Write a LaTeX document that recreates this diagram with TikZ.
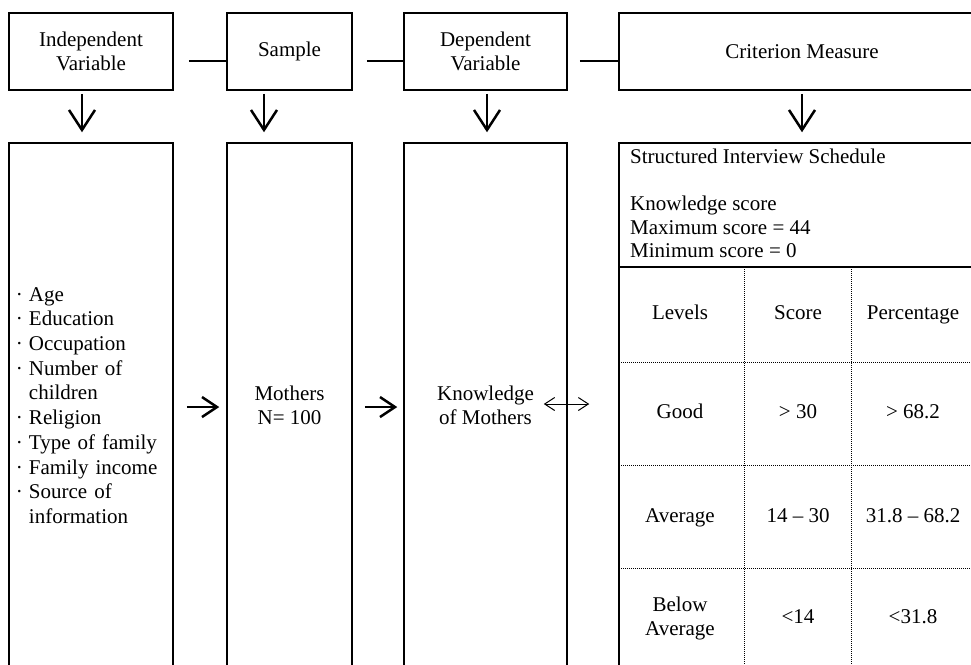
\documentclass[tikz,border=0pt]{standalone}
\usepackage{fontspec}
\setmainfont{Liberation Serif}
\usetikzlibrary{arrows.meta}

\begin{document}
\begin{tikzpicture}[x=1pt,y=-1pt,
  font=\fontsize{21}{24}\selectfont,
  box/.style={draw, line width=1.5pt, align=center, inner sep=0pt},
  cell/.style={text height=14pt, text depth=4pt},
  link/.style={line width=2.8pt},
  arr/.style={line width=2.5pt, -{Straight Barb[length=20pt,width=26pt]}},
  arrs/.style={line width=2.5pt, -{Straight Barb[length=15pt,width=20pt]}},
  both/.style={line width=1pt, {Straight Barb[length=10pt,width=13pt]}-{Straight Barb[length=10pt,width=13pt]}},
  table/.style={densely dotted, line width=1pt}]
\useasboundingbox (0,0) rectangle (971,664);
\clip (0,0) rectangle (971,664);

\node[box, minimum width=164pt, minimum height=77pt] (1) at (91,51.5) {Independent\\Variable};
\node[box, minimum width=125pt, minimum height=77pt] (2) at (289.5,51.5) {Sample};
\node[box, minimum width=163pt, minimum height=77pt] (3) at (485.5,51.5) {Dependent\\Variable};
\node[box, minimum width=366pt, minimum height=77pt] (4) at (802,51.5) {Criterion Measure};

\node[box, minimum height=525pt, text width=150pt, inner xsep=7pt, align=left,
  font=\fontsize{21}{24.7}\selectfont] (5) at (91,405.5)
  {\makebox[13pt][l]{\textperiodcentered}Age\\
   \makebox[13pt][l]{\textperiodcentered}Education\\
   \makebox[13pt][l]{\textperiodcentered}Occupation\\
   \makebox[13pt][l]{\textperiodcentered}Number of\\
   \hspace*{13pt}children\\
   \makebox[13pt][l]{\textperiodcentered}Religion\\
   \makebox[13pt][l]{\textperiodcentered}Type of family\\
   \makebox[13pt][l]{\textperiodcentered}Family income\\
   \makebox[13pt][l]{\textperiodcentered}Source of\\
   \hspace*{13pt}information};
\node[box, minimum width=125pt, minimum height=525pt] (6) at (289.5,405.5) {Mothers\\N= 100};
\node[box, minimum width=163pt, minimum height=525pt] (7) at (485.5,405.5) {Knowledge\\of Mothers};
\node[box, minimum width=366pt, minimum height=525pt] (8) at (802,405.5) {};

% criterion box contents
\node[anchor=north west, align=left, inner sep=0pt, font=\fontsize{21}{23.5}\selectfont] (9) at (630,149)
  {Structured Interview Schedule\\[23.5pt]
   Knowledge score\\
   Maximum score = 44\\
   Minimum score = 0};
\coordinate (t) at (0,267);
\draw[line width=1.5pt] (8.west |- t) -- (8.east |- t);
\draw[table] (744,267) -- (744,668);
\draw[table] (851,267) -- (851,668);
\draw[table] (619,362) -- (985,362);
\draw[table] (619,465) -- (985,465);
\draw[table] (619,568) -- (985,568);

\node[cell](10) at (680,314) {Levels};
\node[cell](11) at (798,314) {Score};
\node[cell](12) at (913,314) {Percentage};
\node[cell](13) at (680,413) {Good};
\node[cell](14) at (798,413) {> 30};
\node[cell](15) at (913,413) {> 68.2};
\node[cell](16) at (680,517) {Average};
\node[cell](17) at (798,517) {14 – 30};
\node[cell](18) at (913,517) {31.8 – 68.2};
\node[align=center](19) at (680,618) {Below\\Average};
\node[cell](20) at (798,618) {<14};
\node[cell](21) at (913,618) {<31.8};

\draw[link, shorten <=15pt] ([yshift=-9.5pt]1.east) -- ([yshift=-9.5pt]2.west);
\draw[link, shorten <=14pt] ([yshift=-9.5pt]2.east) -- ([yshift=-9.5pt]3.west);
\draw[link, shorten <=12pt] ([yshift=-9.5pt]3.east) -- ([yshift=-9.5pt]4.west);
\draw[arr, shorten <=3pt, shorten >=10pt] ([xshift=-9pt]1.south) -- ([xshift=-9pt]5.north);
\draw[arr, shorten <=3pt, shorten >=10pt] ([xshift=-25.5pt]2.south) -- ([xshift=-25.5pt]6.north);
\draw[arr, shorten <=3pt, shorten >=10pt] ([xshift=1.5pt]3.south) -- ([xshift=1.5pt]7.north);
\draw[arr, shorten <=3pt, shorten >=10pt] (4.south) -- (8.north);
\draw[arrs, shorten <=13pt, shorten >=7pt] ([yshift=-1.5pt]5.east) -- ([yshift=-1.5pt]6.west);
\draw[arrs, shorten <=12pt, shorten >=6pt] ([yshift=-1.5pt]6.east) -- ([yshift=-1.5pt]7.west);
\draw[both] ([xshift=-24pt,yshift=1.5pt]7.east) -- ([xshift=-29pt,yshift=1.5pt]8.west);
\end{tikzpicture}
\end{document}
